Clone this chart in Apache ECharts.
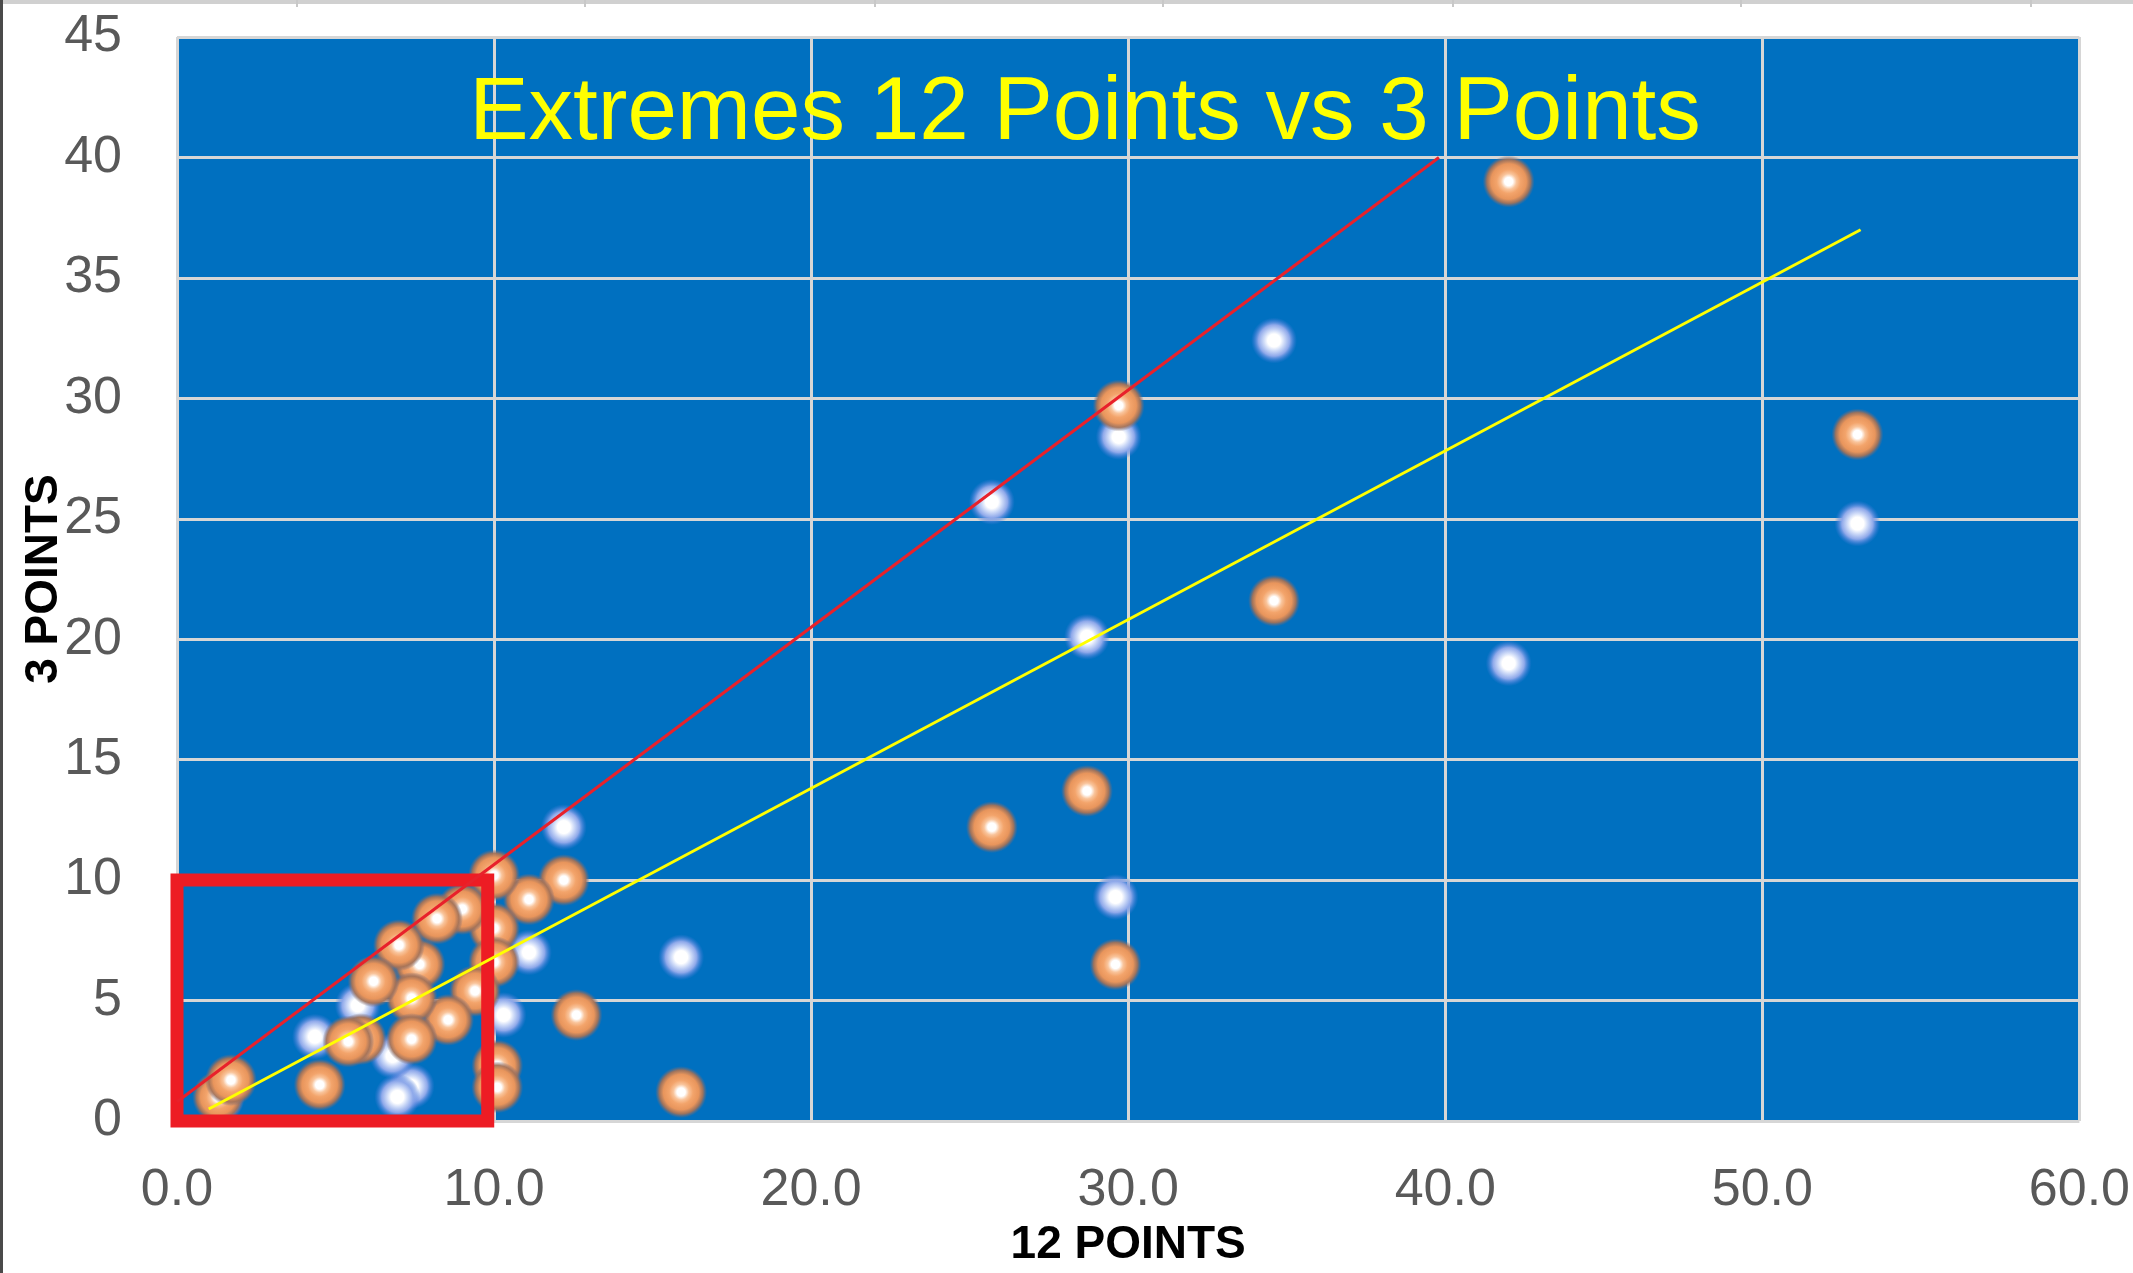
<!DOCTYPE html>
<html>
<head>
<meta charset="utf-8">
<script src="https://cdn.jsdelivr.net/npm/echarts@6/dist/echarts.min.js"></script>
<style>
  html, body { margin: 0; padding: 0; background: #ffffff; }
  #chart { width: 2133px; height: 1273px; }
</style>
</head>
<body>
<div id="chart"></div>
<script>
// ---- data ----
const chartTitle = 'Extremes 12 Points vs 3 Points';
const xAxisName = '12 POINTS';
const yAxisName = '3 POINTS';
const xTickLabels = ['0.0', '10.0', '20.0', '30.0', '40.0', '50.0', '60.0'];
const yTickLabels = ['0', '5', '10', '15', '20', '25', '30', '35', '40', '45'];

// orange markers (x = 12 points, y = 3 points)
const orangePoints = [
  [53.0, 28.5], [42.0, 39.0], [34.6, 21.6], [29.7, 29.7], [29.6, 6.5],
  [28.7, 13.7], [25.7, 12.2], [15.9, 1.2], [12.6, 4.4], [12.2, 10.0],
  [11.1, 9.2], [10.1, 2.3], [10.1, 1.4], [10.0, 10.2], [10.0, 8.0],
  [10.0, 6.6], [9.4, 5.4], [9.0, 8.8], [8.2, 8.4], [8.55, 4.2],
  [7.65, 6.5], [7.4, 5.1], [7.4, 3.4], [7.0, 7.3], [6.2, 5.8],
  [5.8, 3.4], [5.4, 3.3], [4.5, 1.5], [1.3, 1.0], [1.7, 1.7]
];
// blue/white glowing markers
const bluePoints = [
  [53.0, 24.8], [42.0, 19.0], [34.6, 32.4], [29.7, 28.4], [29.6, 9.3],
  [28.7, 20.1], [25.7, 25.7], [15.9, 6.8], [12.2, 12.2], [11.1, 7.0],
  [10.3, 4.4], [7.4, 1.45], [6.95, 1.0], [6.8, 2.7], [5.7, 4.8],
  [4.35, 3.5], [1.4, 0.9]
];
// red reference line (endpoints)
const redLine = [[0.0, 0.8], [39.8, 40.0]];
// yellow trend line (endpoints)
const yellowLine = [[1.0, 0.5], [53.1, 37.0]];
// red highlight box corners
const boxCorners = [[0, 0], [9.8, 0], [9.8, 10], [0, 10], [0, 0]];

// ---- chart ----
const chart = echarts.init(document.getElementById('chart'), null, { renderer: 'canvas' });
const FONT = '"Liberation Sans", Arial, sans-serif';

const orangeFill = {
  type: 'radial', x: 0.5, y: 0.5, r: 0.5,
  colorStops: [
    { offset: 0.0, color: '#ffffff' },
    { offset: 0.16, color: '#ffffff' },
    { offset: 0.3, color: '#f9c49b' },
    { offset: 0.46, color: '#f3a46b' },
    { offset: 0.68, color: '#e8955c' },
    { offset: 0.84, color: 'rgba(165,115,88,0.95)' },
    { offset: 1.0, color: 'rgba(110,105,125,0)' }
  ]
};
const blueFill = {
  type: 'radial', x: 0.5, y: 0.5, r: 0.5,
  colorStops: [
    { offset: 0.0, color: '#ffffff' },
    { offset: 0.28, color: '#ffffff' },
    { offset: 0.44, color: '#d0dcf8' },
    { offset: 0.68, color: '#8fa9ea' },
    { offset: 0.85, color: 'rgba(100,140,226,0.5)' },
    { offset: 1.0, color: 'rgba(70,120,215,0)' }
  ]
};

const spreadsheetTicks = [297, 585, 875, 1163, 1453, 1741, 2031];

const option = {
  animation: false,
  backgroundColor: '#ffffff',
  grid: {
    left: 177, right: 51, top: 37, bottom: 151,
    show: true, backgroundColor: '#0070c0', borderWidth: 0
  },
  xAxis: {
    type: 'value', min: 0, max: 60, interval: 10,
    name: xAxisName, nameLocation: 'middle', nameGap: 101, nameMoveOverlap: false,
    nameTextStyle: { fontFamily: FONT, fontSize: 46, fontWeight: 'bold', color: '#000000' },
    axisLine: { show: false }, axisTick: { show: false },
    axisLabel: {
      margin: 44, fontFamily: FONT, fontSize: 52, color: '#595959',
      formatter: v => xTickLabels[Math.round(v / 10)]
    },
    splitLine: { show: true, lineStyle: { color: '#d6d6d6', width: 3 } }
  },
  yAxis: {
    type: 'value', min: 0, max: 45, interval: 5,
    name: yAxisName, nameLocation: 'middle', nameGap: 110, nameMoveOverlap: false,
    nameTextStyle: { fontFamily: FONT, fontSize: 46, fontWeight: 'bold', color: '#000000' },
    axisLine: { show: false }, axisTick: { show: false },
    axisLabel: {
      margin: 55, fontFamily: FONT, fontSize: 52, color: '#595959',
      formatter: v => yTickLabels[Math.round(v / 5)]
    },
    splitLine: { show: true, lineStyle: { color: '#d6d6d6', width: 3 } }
  },
  series: [
    {
      name: 'Blue', type: 'scatter', data: bluePoints, z: 2,
      symbol: 'circle', symbolSize: 46,
      itemStyle: { color: blueFill, opacity: 1 }
    },
    {
      name: 'Orange', type: 'scatter', data: orangePoints, z: 3,
      symbol: 'circle', symbolSize: 52,
      itemStyle: { color: orangeFill, opacity: 1 }
    },
    {
      name: 'Box', type: 'line', data: boxCorners, z: 4, clip: false,
      symbol: 'none', silent: true,
      lineStyle: { color: '#ed1c24', width: 13, join: 'miter', cap: 'square' }
    },
    {
      name: 'Yellow trend', type: 'line', data: yellowLine, z: 5,
      symbol: 'none', silent: true,
      lineStyle: { color: '#ffff00', width: 3 }
    },
    {
      name: 'Red line', type: 'line', data: redLine, z: 6, clip: false,
      symbol: 'none', silent: true,
      lineStyle: { color: '#e8212b', width: 3 }
    }
  ],
  graphic: [
    {
      type: 'text', x: 1085, y: 114, z: 100,
      style: {
        text: chartTitle, fill: '#ffff00',
        font: '89px ' + FONT,
        align: 'center', verticalAlign: 'middle',
        textAlign: 'center', textVerticalAlign: 'middle'
      }
    },
    { type: 'rect', shape: { x: 0, y: 0, width: 2133, height: 4 }, style: { fill: '#d0d0d0' }, z: 100 },
    { type: 'rect', shape: { x: 0, y: 0, width: 3, height: 1273 }, style: { fill: '#4a4a4a' }, z: 100 }
  ].concat(spreadsheetTicks.map(x => ({
    type: 'rect', shape: { x: x - 1, y: 0, width: 2, height: 7 }, style: { fill: '#c8c8c8' }, z: 100
  })))
};

chart.setOption(option);
</script>
</body>
</html>
